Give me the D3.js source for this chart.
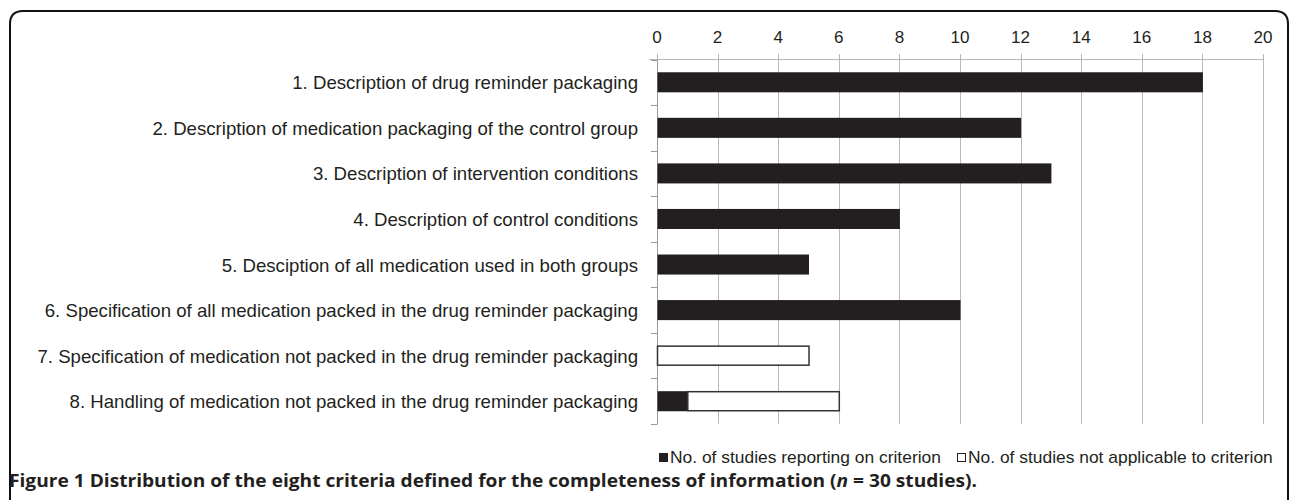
<!DOCTYPE html>
<html>
<head>
<meta charset="utf-8">
<script src="https://cdn.jsdelivr.net/npm/d3@7"></script>
<style>
  html, body { margin: 0; padding: 0; background: #fff; }
  svg { display: block; }
  text { font-family: "Liberation Sans", Arial, Helvetica, sans-serif; fill: #231f20; }
</style>
</head>
<body>
<svg id="chart" width="1292" height="500"></svg>
<script>
const categories = [
  "1. Description of drug reminder packaging",
  "2. Description of medication packaging of the control group",
  "3. Description of intervention conditions",
  "4. Description of control conditions",
  "5. Desciption of all medication used in both groups",
  "6. Specification of all medication packed in the drug reminder packaging",
  "7. Specification of medication not packed in the drug reminder packaging",
  "8. Handling of medication not packed in the drug reminder packaging"
];
const reporting = [18, 12, 13, 8, 5, 10, 0, 1];
const notApplicable = [0, 0, 0, 0, 0, 0, 5, 5];
const seriesNames = ["No. of studies reporting on criterion", "No. of studies not applicable to criterion"];
const xTicks = [0, 2, 4, 6, 8, 10, 12, 14, 16, 18, 20];
const captionBold = "Figure 1";
const captionRest = " Distribution of the eight criteria defined for the completeness of information (";
const captionN = "n";
const captionEnd = " = 30 studies).";

const svg = d3.select("#chart");
const ink = "#231f20";
const grid = "#b8b8b8";

function fitSize(str, target, family, weight) {
  const t = svg.append("text").style("font-family", family).style("font-weight", weight || "normal")
    .style("font-size", "100px").text(str);
  const w = t.node().getComputedTextLength();
  t.remove();
  return 100 * target / w;
}
const baseFamily = "'Liberation Sans', Arial, sans-serif";

// frame
svg.append("path")
  .attr("d", "M10,510 L10,24 Q10,11 23,11 L1275,11 Q1288,11 1288,24 L1288,510")
  .attr("fill", "none").attr("stroke", "#111").attr("stroke-width", 2);

const x = d3.scaleLinear().domain([0, 20]).range([657, 1263]);
const y = d3.scaleBand().domain(categories).range([59.5, 424]).paddingInner(0.56).paddingOuter(0.28);

// gridlines
svg.append("g").selectAll("line").data(xTicks).join("line")
  .attr("x1", d => Math.round(x(d)) + 0.5).attr("x2", d => Math.round(x(d)) + 0.5)
  .attr("y1", 54).attr("y2", 424)
  .attr("stroke", grid).attr("stroke-width", 1);

// top axis line
svg.append("line").attr("x1", 649).attr("x2", 1264).attr("y1", 59.5).attr("y2", 59.5)
  .attr("stroke", grid).attr("stroke-width", 1);

// tick labels
const tickSize = fitSize("10", 19, baseFamily);
svg.append("g").selectAll("text").data(xTicks).join("text")
  .attr("x", d => x(d)).attr("y", 43)
  .attr("text-anchor", "middle")
  .style("font-size", tickSize + "px")
  .text(d => d);

// left axis with ticks between categories
const step = y.step();
const yEdges = d3.range(categories.length + 1).map(i => 59.5 + i * step);
svg.append("line").attr("x1", 657.5).attr("x2", 657.5).attr("y1", 59.5).attr("y2", 424)
  .attr("stroke", "#999").attr("stroke-width", 1);
svg.append("g").selectAll("line").data(yEdges).join("line")
  .attr("x1", 651).attr("x2", 657.5)
  .attr("y1", d => Math.round(d) + 0.5).attr("y2", d => Math.round(d) + 0.5)
  .attr("stroke", "#999").attr("stroke-width", 1);

// bars: reporting
svg.append("g").selectAll("rect").data(categories).join("rect")
  .filter((d, i) => reporting[i] > 0)
  .attr("x", x(0) + 0.5)
  .attr("y", d => y(d))
  .attr("width", d => x(reporting[categories.indexOf(d)]) - x(0))
  .attr("height", y.bandwidth())
  .attr("fill", ink);

// bars: not applicable (stacked)
svg.append("g").selectAll("rect").data(categories).join("rect")
  .filter((d, i) => notApplicable[i] > 0)
  .attr("x", d => x(reporting[categories.indexOf(d)]) + 0.5)
  .attr("y", d => y(d) + 0.5)
  .attr("width", d => { const i = categories.indexOf(d); return x(reporting[i] + notApplicable[i]) - x(reporting[i]); })
  .attr("height", y.bandwidth() - 1)
  .attr("fill", "#fff").attr("stroke", "#333").attr("stroke-width", 1.5);

// category labels
const labelSize = fitSize(categories[0], 346, baseFamily);
svg.append("g").selectAll("text").data(categories).join("text")
  .attr("x", 638).attr("y", d => y(d) + y.bandwidth() / 2 + 7)
  .attr("text-anchor", "end")
  .style("font-size", labelSize + "px")
  .text(d => d);

// legend
const legendSize = fitSize(seriesNames[1], 305, baseFamily);
const legend = svg.append("g").style("font-size", legendSize + "px");
legend.append("rect").attr("x", 659).attr("y", 453).attr("width", 9).attr("height", 9).attr("fill", ink);
legend.append("text").attr("x", 670).attr("y", 463).text(seriesNames[0]);
legend.append("rect").attr("x", 957.5).attr("y", 453.5).attr("width", 8).attr("height", 8)
  .attr("fill", "#fff").attr("stroke", ink).attr("stroke-width", 1);
legend.append("text").attr("x", 968).attr("y", 463).text(seriesNames[1]);

// caption
const cap = svg.append("text").attr("x", 9).attr("y", 487)
  .style("font-family", "'Open Sans', sans-serif").style("font-size", "17px").style("font-weight", "bold")
  .attr("textLength", 968).attr("lengthAdjust", "spacingAndGlyphs");
cap.append("tspan").text(captionBold);
cap.append("tspan").text(captionRest);
cap.append("tspan").style("font-style", "italic").text(captionN);
cap.append("tspan").text(captionEnd);
</script>
</body>
</html>
